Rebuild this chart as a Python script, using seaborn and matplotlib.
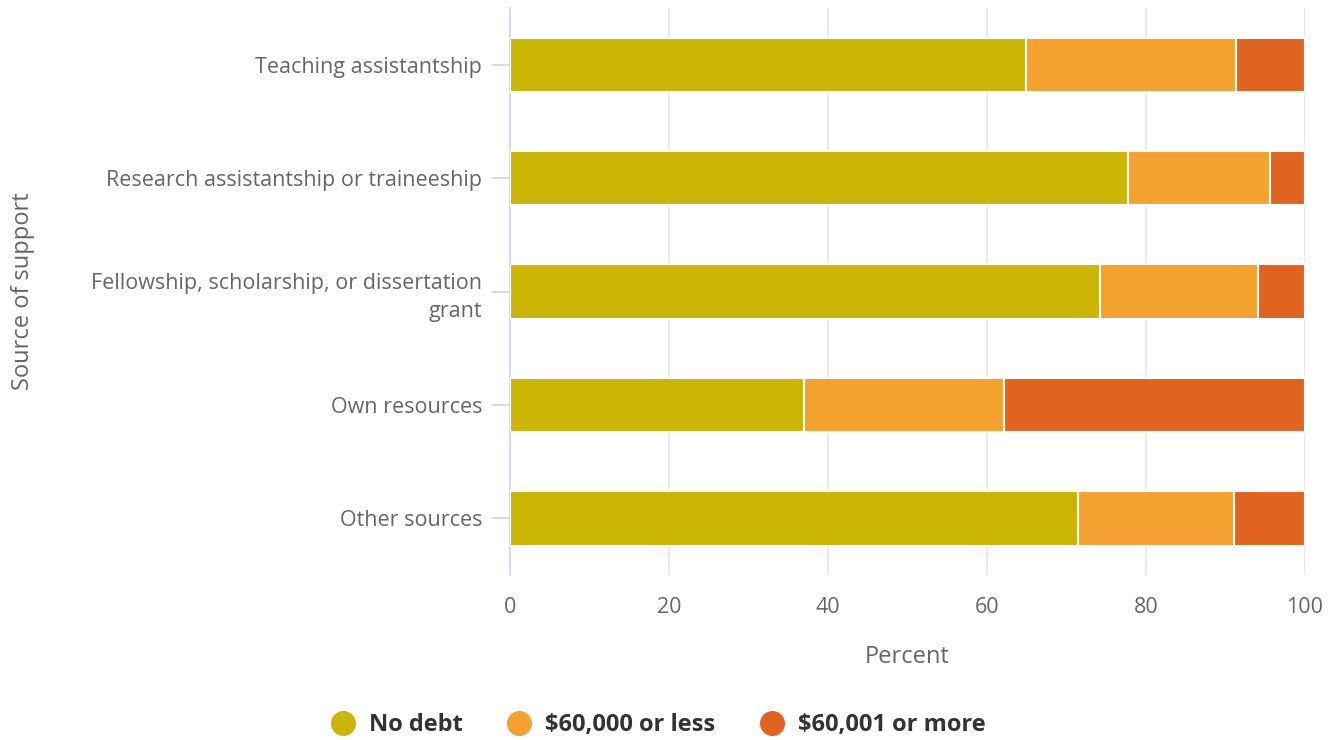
import pandas as pd
import matplotlib.pyplot as plt
import seaborn as sns
from matplotlib.lines import Line2D

# Data (percent)
sources = ['Teaching assistantship', 'Research assistantship or traineeship',
           'Fellowship, scholarship, or dissertation\ngrant', 'Own resources', 'Other sources']
no_debt = [64.9, 77.7, 74.2, 37.0, 71.4]
under_60k = [26.4, 17.9, 19.9, 25.1, 19.7]
over_60k = [8.7, 4.4, 5.9, 37.9, 8.9]
series = ['No debt', '$60,000 or less', '$60,001 or more']
colors = ['#CBB608', '#F4A130', '#E06420']

df = pd.DataFrame({'source': sources, 'No debt': no_debt,
                   '$60,000 or less': under_60k, '$60,001 or more': over_60k})
df['c1'] = df['No debt']
df['c2'] = df['c1'] + df['$60,000 or less']
df['c3'] = df['c2'] + df['$60,001 or more']

sns.set_style('white')
plt.rcParams['font.family'] = ['Open Sans', 'DejaVu Sans']

fig = plt.figure(figsize=(13.4, 7.4), dpi=100)
ax = fig.add_axes([0.3806, 0.223, 0.5933, 0.766])

# stacked bars: draw cumulative totals, largest first
for col, color in zip(['c3', 'c2', 'c1'], colors[::-1]):
    sns.barplot(data=df, x=col, y='source', orient='h', color=color, saturation=1,
                width=0.48, edgecolor='white', linewidth=1.5, ax=ax, zorder=3)

ax.set_xlim(0, 100)
ax.set_xticks([0, 20, 40, 60, 80, 100])
ax.grid(axis='x', color='#e6e6e6', linewidth=1.2, zorder=0)
for s in ['top', 'right', 'bottom']:
    ax.spines[s].set_visible(False)
ax.spines['left'].set_color('#ccd6eb')
ax.spines['left'].set_linewidth(1.2)
ax.tick_params(axis='y', length=13, color='#ccd6eb', width=1.2, pad=7,
               labelsize=15.5, labelcolor='#666666', direction='out', left=True)
ax.tick_params(axis='x', length=0, pad=16, labelsize=15.5, labelcolor='#666666')
for lbl in ax.get_yticklabels():
    lbl.set_linespacing(1.45)
ax.set_xlabel('Percent', fontsize=17, color='#666666', labelpad=19)
ax.set_ylabel('')
fig.text(0.017, 0.607, 'Source of support', rotation=90, ha='center', va='center',
         fontsize=17, color='#666666')

handles = [Line2D([], [], marker='o', linestyle='', markersize=17,
                  markerfacecolor=c, markeredgecolor=c) for c in colors]
leg = fig.legend(handles, series, loc='lower center', bbox_to_anchor=(0.487, -0.025),
                 ncol=3, frameon=False, handletextpad=0.1, columnspacing=1.4,
                 prop={'size': 17, 'weight': 'bold'})
for t in leg.get_texts():
    t.set_color('#333333')

plt.savefig('out.png', dpi=100)
plt.close()
